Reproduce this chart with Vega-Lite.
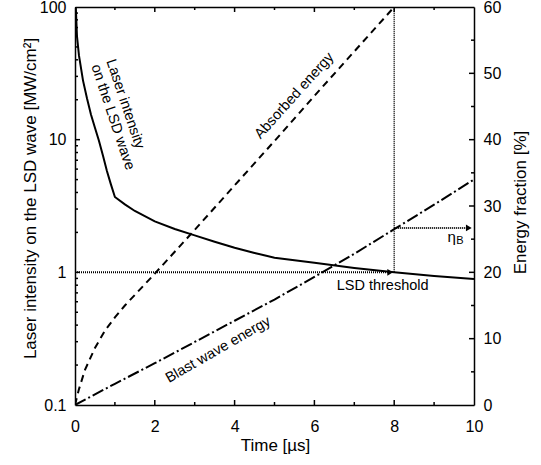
{
  "$schema": "https://vega.github.io/schema/vega-lite/v6.json",
  "width": 399,
  "height": 398,
  "autosize": "none",
  "padding": {"left": 75, "top": 7, "right": 67, "bottom": 60},
  "background": "white",
  "config": {
    "view": {"stroke": null},
    "font": "Liberation Sans",
    "axis": {
      "grid": false,
      "domainColor": "black",
      "domainWidth": 1.5,
      "labelColor": "black",
      "titleColor": "black",
      "labelFont": "Liberation Sans",
      "titleFont": "Liberation Sans",
      "labelFontSize": 16,
      "titleFontSize": 17,
      "titleFontWeight": "normal",
      "labelFlush": false
    },
    "text": {"font": "Liberation Sans", "color": "black"},
    "rule": {"color": "black", "strokeWidth": 1.5, "opacity": 1}
  },
  "datasets": {
    "laser": [
      {"t": 0.02, "I": 100}, {"t": 0.05, "I": 60}, {"t": 0.1, "I": 43}, {"t": 0.2, "I": 28},
      {"t": 0.3, "I": 20.5}, {"t": 0.4, "I": 15.5}, {"t": 0.5, "I": 12.3}, {"t": 0.6, "I": 9.8},
      {"t": 0.7, "I": 7.6}, {"t": 0.8, "I": 5.8}, {"t": 0.9, "I": 4.6}, {"t": 1.0, "I": 3.7},
      {"t": 1.25, "I": 3.25}, {"t": 1.5, "I": 2.9}, {"t": 2.0, "I": 2.42}, {"t": 2.5, "I": 2.12},
      {"t": 3.0, "I": 1.9}, {"t": 3.5, "I": 1.7}, {"t": 4.0, "I": 1.53}, {"t": 4.5, "I": 1.4},
      {"t": 5.0, "I": 1.29}, {"t": 6.0, "I": 1.18}, {"t": 7.0, "I": 1.08}, {"t": 8.0, "I": 1.0},
      {"t": 9.0, "I": 0.94}, {"t": 10.0, "I": 0.89}
    ],
    "energy": [
      {"series": "Absorbed energy", "t": 0, "E": 0}, {"series": "Absorbed energy", "t": 0.1, "E": 2.4},
      {"series": "Absorbed energy", "t": 0.25, "E": 5.3}, {"series": "Absorbed energy", "t": 0.5, "E": 8.6},
      {"series": "Absorbed energy", "t": 0.75, "E": 11.2}, {"series": "Absorbed energy", "t": 1.0, "E": 13.2},
      {"series": "Absorbed energy", "t": 1.25, "E": 15.0}, {"series": "Absorbed energy", "t": 1.5, "E": 16.6},
      {"series": "Absorbed energy", "t": 2.0, "E": 19.8}, {"series": "Absorbed energy", "t": 2.5, "E": 23.1},
      {"series": "Absorbed energy", "t": 3.0, "E": 26.4}, {"series": "Absorbed energy", "t": 4.0, "E": 33.1},
      {"series": "Absorbed energy", "t": 5.0, "E": 39.8}, {"series": "Absorbed energy", "t": 6.0, "E": 46.6},
      {"series": "Absorbed energy", "t": 7.0, "E": 53.3}, {"series": "Absorbed energy", "t": 8.0, "E": 60},
      {"series": "Blast wave energy", "t": 0, "E": 0}, {"series": "Blast wave energy", "t": 1, "E": 3.2},
      {"series": "Blast wave energy", "t": 2, "E": 6.3}, {"series": "Blast wave energy", "t": 3, "E": 9.5},
      {"series": "Blast wave energy", "t": 4, "E": 12.7}, {"series": "Blast wave energy", "t": 5, "E": 15.9},
      {"series": "Blast wave energy", "t": 6, "E": 19.3}, {"series": "Blast wave energy", "t": 7, "E": 22.8},
      {"series": "Blast wave energy", "t": 8, "E": 26.5}, {"series": "Blast wave energy", "t": 9, "E": 30.2},
      {"series": "Blast wave energy", "t": 10, "E": 34.0}
    ],
    "threshold": [{"t": 0, "I": 1}, {"t": 7.85, "I": 1}],
    "vline": [{"t": 8, "I": 1}, {"t": 8, "I": 100}],
    "thrArrow": [{"t": 7.9, "I": 1}],
    "etaLine": [{"t": 8, "E": 26.7}, {"t": 9.85, "E": 26.7}],
    "etaArrow": [{"t": 9.87, "E": 26.7}],
    "xMajor": [{"t": 2}, {"t": 4}, {"t": 6}, {"t": 8}],
    "xMinor": [{"t": 1}, {"t": 3}, {"t": 5}, {"t": 7}, {"t": 9}],
    "leftMajor": [{"I": 1}, {"I": 10}],
    "leftMinor": [
      {"I": 0.2}, {"I": 0.3}, {"I": 0.4}, {"I": 0.5}, {"I": 0.6}, {"I": 0.7}, {"I": 0.8}, {"I": 0.9},
      {"I": 2}, {"I": 3}, {"I": 4}, {"I": 5}, {"I": 6}, {"I": 7}, {"I": 8}, {"I": 9},
      {"I": 20}, {"I": 30}, {"I": 40}, {"I": 50}, {"I": 60}, {"I": 70}, {"I": 80}, {"I": 90}
    ],
    "rightMajor": [{"E": 10}, {"E": 20}, {"E": 30}, {"E": 40}, {"E": 50}],
    "rightMinor": [{"E": 5}, {"E": 15}, {"E": 25}, {"E": 35}, {"E": 45}, {"E": 55}],
    "laserLabel": [{"t": 0.88, "I": 40, "label": "Laser intensity\non the LSD wave"}],
    "absLabel": [{"t": 5.5, "E": 46.6, "label": "Absorbed energy"}],
    "blastLabel": [{"t": 3.59, "E": 8.3, "label": "Blast wave energy"}],
    "lsdLabel": [{"t": 7.71, "E": 17.9, "label": "LSD threshold"}],
    "etaLabel": [{"t": 9.44, "E": 25.3, "label": "η"}],
    "etaSub": [{"t": 9.65, "E": 24.65, "label": "B"}]
  },
  "resolve": {
    "scale": {"x": "independent", "y": "independent", "strokeDash": "independent"},
    "axis": {"x": "independent", "y": "independent"}
  },
  "layer": [
    {
      "data": {"name": "laser"},
      "mark": {"type": "line", "color": "black", "strokeWidth": 2, "clip": true},
      "encoding": {
        "x": {"field": "t", "type": "quantitative", "scale": {"domain": [0, 10], "nice": false},
          "axis": {"orient": "bottom", "values": [0, 2, 4, 6, 8, 10], "ticks": false, "tickSize": 0, "labelPadding": 13,
            "title": "Time [µs]", "titleX": 200, "titleY": 40, "titleBaseline": "middle"}},
        "y": {"field": "I", "type": "quantitative", "scale": {"type": "log", "domain": [0.1, 100], "nice": false},
          "axis": {"orient": "left", "values": [0.1, 1, 10, 100], "format": "~g", "ticks": false, "tickSize": 0, "labelPadding": 9,
            "title": "Laser intensity on the LSD wave [MW/cm²]", "titleX": -45, "titleY": 191, "titleAngle": -90, "titleBaseline": "middle"}}
      }
    },
    {
      "data": {"name": "threshold"},
      "mark": {"type": "line", "color": "black", "strokeWidth": 2, "strokeDash": [1, 1]},
      "encoding": {
        "x": {"field": "t", "type": "quantitative", "scale": {"domain": [0, 10], "nice": false}, "axis": null},
        "y": {"field": "I", "type": "quantitative", "scale": {"type": "log", "domain": [0.1, 100], "nice": false}, "axis": null}
      }
    },
    {
      "data": {"name": "vline"},
      "mark": {"type": "line", "color": "black", "strokeWidth": 1.5, "strokeDash": [1, 1]},
      "encoding": {
        "x": {"field": "t", "type": "quantitative", "scale": {"domain": [0, 10], "nice": false},
          "axis": {"orient": "top", "values": [0, 10], "ticks": false, "labels": false, "domain": true, "title": null}},
        "y": {"field": "I", "type": "quantitative", "scale": {"type": "log", "domain": [0.1, 100], "nice": false}, "axis": null}
      }
    },
    {
      "data": {"name": "thrArrow"},
      "mark": {"type": "point", "shape": "triangle-right", "filled": true, "color": "black", "size": 45, "opacity": 1},
      "encoding": {
        "x": {"field": "t", "type": "quantitative", "scale": {"domain": [0, 10], "nice": false}, "axis": null},
        "y": {"field": "I", "type": "quantitative", "scale": {"type": "log", "domain": [0.1, 100], "nice": false}, "axis": null}
      }
    },
    {
      "data": {"name": "energy"},
      "mark": {"type": "line", "color": "black", "strokeWidth": 2, "clip": true},
      "encoding": {
        "x": {"field": "t", "type": "quantitative", "scale": {"domain": [0, 10], "nice": false}, "axis": null},
        "y": {"field": "E", "type": "quantitative", "scale": {"domain": [0, 60], "nice": false},
          "axis": {"orient": "right", "values": [0, 10, 20, 30, 40, 50, 60], "ticks": false, "tickSize": 0, "labelPadding": 9,
            "title": "Energy fraction [%]", "titleX": 46, "titleY": 195, "titleAngle": -90, "titleBaseline": "middle"}},
        "strokeDash": {"field": "series", "type": "nominal",
          "scale": {"domain": ["Absorbed energy", "Blast wave energy"], "range": [[7, 5], [12, 3, 2, 3]]}, "legend": null}
      }
    },
    {
      "data": {"name": "etaLine"},
      "mark": {"type": "line", "color": "black", "strokeWidth": 2, "strokeDash": [1, 1]},
      "encoding": {
        "x": {"field": "t", "type": "quantitative", "scale": {"domain": [0, 10], "nice": false}, "axis": null},
        "y": {"field": "E", "type": "quantitative", "scale": {"domain": [0, 60], "nice": false}, "axis": null}
      }
    },
    {
      "data": {"name": "etaArrow"},
      "mark": {"type": "point", "shape": "triangle-right", "filled": true, "color": "black", "size": 45, "opacity": 1},
      "encoding": {
        "x": {"field": "t", "type": "quantitative", "scale": {"domain": [0, 10], "nice": false}, "axis": null},
        "y": {"field": "E", "type": "quantitative", "scale": {"domain": [0, 60], "nice": false}, "axis": null}
      }
    },
    {
      "data": {"name": "xMajor"},
      "mark": {"type": "rule", "color": "black", "strokeWidth": 1.5},
      "encoding": {
        "x": {"field": "t", "type": "quantitative", "scale": {"domain": [0, 10], "nice": false}, "axis": null},
        "y": {"datum": 0, "type": "quantitative", "scale": {"domain": [0, 60], "nice": false}, "axis": null},
        "y2": {"datum": 0.75}
      }
    },
    {
      "data": {"name": "xMajor"},
      "mark": {"type": "rule", "color": "black", "strokeWidth": 1.5},
      "encoding": {
        "x": {"field": "t", "type": "quantitative", "scale": {"domain": [0, 10], "nice": false}, "axis": null},
        "y": {"datum": 60, "type": "quantitative", "scale": {"domain": [0, 60], "nice": false}, "axis": null},
        "y2": {"datum": 59.25}
      }
    },
    {
      "data": {"name": "xMinor"},
      "mark": {"type": "rule", "color": "black", "strokeWidth": 1.5},
      "encoding": {
        "x": {"field": "t", "type": "quantitative", "scale": {"domain": [0, 10], "nice": false}, "axis": null},
        "y": {"datum": 0, "type": "quantitative", "scale": {"domain": [0, 60], "nice": false}, "axis": null},
        "y2": {"datum": 0.45}
      }
    },
    {
      "data": {"name": "xMinor"},
      "mark": {"type": "rule", "color": "black", "strokeWidth": 1.5},
      "encoding": {
        "x": {"field": "t", "type": "quantitative", "scale": {"domain": [0, 10], "nice": false}, "axis": null},
        "y": {"datum": 60, "type": "quantitative", "scale": {"domain": [0, 60], "nice": false}, "axis": null},
        "y2": {"datum": 59.55}
      }
    },
    {
      "data": {"name": "leftMajor"},
      "mark": {"type": "rule", "color": "black", "strokeWidth": 1.5},
      "encoding": {
        "x": {"datum": 0, "type": "quantitative", "scale": {"domain": [0, 10], "nice": false}, "axis": null},
        "x2": {"datum": 0.125},
        "y": {"field": "I", "type": "quantitative", "scale": {"type": "log", "domain": [0.1, 100], "nice": false}, "axis": null}
      }
    },
    {
      "data": {"name": "leftMinor"},
      "mark": {"type": "rule", "color": "black", "strokeWidth": 1.5},
      "encoding": {
        "x": {"datum": 0, "type": "quantitative", "scale": {"domain": [0, 10], "nice": false}, "axis": null},
        "x2": {"datum": 0.075},
        "y": {"field": "I", "type": "quantitative", "scale": {"type": "log", "domain": [0.1, 100], "nice": false}, "axis": null}
      }
    },
    {
      "data": {"name": "rightMajor"},
      "mark": {"type": "rule", "color": "black", "strokeWidth": 1.5},
      "encoding": {
        "x": {"datum": 10, "type": "quantitative", "scale": {"domain": [0, 10], "nice": false}, "axis": null},
        "x2": {"datum": 9.875},
        "y": {"field": "E", "type": "quantitative", "scale": {"domain": [0, 60], "nice": false}, "axis": null}
      }
    },
    {
      "data": {"name": "rightMinor"},
      "mark": {"type": "rule", "color": "black", "strokeWidth": 1.5},
      "encoding": {
        "x": {"datum": 10, "type": "quantitative", "scale": {"domain": [0, 10], "nice": false}, "axis": null},
        "x2": {"datum": 9.925},
        "y": {"field": "E", "type": "quantitative", "scale": {"domain": [0, 60], "nice": false}, "axis": null}
      }
    },
    {
      "data": {"name": "laserLabel"},
      "mark": {"type": "text", "fontSize": 14.5, "angle": 71.5, "align": "left", "baseline": "middle", "lineBreak": "\n", "lineHeight": 16},
      "encoding": {
        "x": {"field": "t", "type": "quantitative", "scale": {"domain": [0, 10], "nice": false}, "axis": null},
        "y": {"field": "I", "type": "quantitative", "scale": {"type": "log", "domain": [0.1, 100], "nice": false}, "axis": null},
        "text": {"field": "label"}
      }
    },
    {
      "data": {"name": "absLabel"},
      "mark": {"type": "text", "fontSize": 14.5, "angle": -48, "align": "center", "baseline": "middle"},
      "encoding": {
        "x": {"field": "t", "type": "quantitative", "scale": {"domain": [0, 10], "nice": false}, "axis": null},
        "y": {"field": "E", "type": "quantitative", "scale": {"domain": [0, 60], "nice": false}, "axis": null},
        "text": {"field": "label"}
      }
    },
    {
      "data": {"name": "blastLabel"},
      "mark": {"type": "text", "fontSize": 14.5, "angle": -30, "align": "center", "baseline": "middle"},
      "encoding": {
        "x": {"field": "t", "type": "quantitative", "scale": {"domain": [0, 10], "nice": false}, "axis": null},
        "y": {"field": "E", "type": "quantitative", "scale": {"domain": [0, 60], "nice": false}, "axis": null},
        "text": {"field": "label"}
      }
    },
    {
      "data": {"name": "lsdLabel"},
      "mark": {"type": "text", "fontSize": 14.5, "align": "center", "baseline": "middle"},
      "encoding": {
        "x": {"field": "t", "type": "quantitative", "scale": {"domain": [0, 10], "nice": false}, "axis": null},
        "y": {"field": "E", "type": "quantitative", "scale": {"domain": [0, 60], "nice": false}, "axis": null},
        "text": {"field": "label"}
      }
    },
    {
      "data": {"name": "etaLabel"},
      "mark": {"type": "text", "fontSize": 15, "align": "center", "baseline": "middle"},
      "encoding": {
        "x": {"field": "t", "type": "quantitative", "scale": {"domain": [0, 10], "nice": false}, "axis": null},
        "y": {"field": "E", "type": "quantitative", "scale": {"domain": [0, 60], "nice": false}, "axis": null},
        "text": {"field": "label"}
      }
    },
    {
      "data": {"name": "etaSub"},
      "mark": {"type": "text", "fontSize": 11, "align": "center", "baseline": "middle"},
      "encoding": {
        "x": {"field": "t", "type": "quantitative", "scale": {"domain": [0, 10], "nice": false}, "axis": null},
        "y": {"field": "E", "type": "quantitative", "scale": {"domain": [0, 60], "nice": false}, "axis": null},
        "text": {"field": "label"}
      }
    }
  ]
}
